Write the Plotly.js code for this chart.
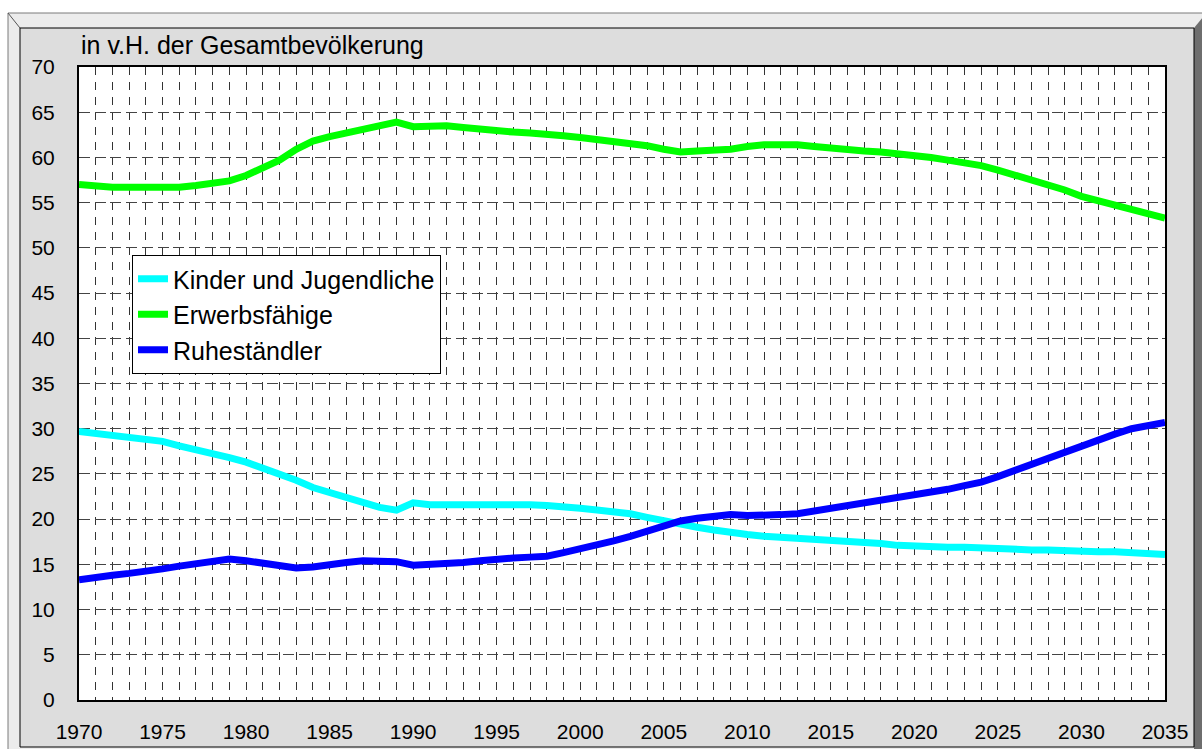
<!DOCTYPE html>
<html>
<head>
<meta charset="utf-8">
<script src="https://cdn.plot.ly/plotly-3.0.1.min.js"></script>
<style>
html,body{margin:0;padding:0;background:#fff;}
#chart{width:1202px;height:749px;}
</style>
</head>
<body>
<div id="chart"></div>
<script>
const years = [1970,1971,1972,1973,1974,1975,1976,1977,1978,1979,
  1980,1981,1982,1983,1984,1985,1986,1987,1988,1989,
  1990,1991,1992,1993,1994,1995,1996,1997,1998,1999,
  2000,2001,2002,2003,2004,2005,2006,2007,2008,2009,
  2010,2011,2012,2013,2014,2015,2016,2017,2018,2019,
  2020,2021,2022,2023,2024,2025,2026,2027,2028,2029,
  2030,2031,2032,2033,2034,2035];

const kinderJugendliche = [29.7,29.5,29.3,29.1,28.8,28.6,28.1,27.7,27.3,26.8,
  26.3,25.7,25.1,24.3,23.5,22.9,22.3,21.7,21.3,21.0,
  21.8,21.6,21.6,21.6,21.6,21.6,21.7,21.6,21.5,21.4,
  21.2,21.0,20.8,20.6,20.2,19.8,19.4,19.1,18.8,18.5,
  18.3,18.1,18.0,17.8,17.7,17.6,17.5,17.4,17.3,17.1,
  17.0,17.0,16.9,16.9,16.8,16.8,16.7,16.6,16.6,16.5,
  16.4,16.4,16.4,16.3,16.2,16.1];

const erwerbsfaehige = [57.0,56.8,56.7,56.7,56.7,56.6,56.7,56.9,57.1,57.4,
  58.0,58.9,59.7,60.9,61.8,62.3,62.7,63.2,63.6,63.9,
  63.4,63.5,63.5,63.3,63.1,62.9,62.8,62.7,62.6,62.4,
  62.2,62.0,61.8,61.6,61.3,60.9,60.6,60.7,60.8,60.9,
  61.2,61.4,61.4,61.4,61.2,61.0,60.9,60.7,60.6,60.4,
  60.3,60.0,59.7,59.4,59.1,58.6,58.1,57.6,57.0,56.4,
  55.7,55.2,54.6,54.1,53.7,53.3];

const ruhestaendler = [13.3,13.6,13.8,14.0,14.2,14.5,14.8,15.1,15.4,15.6,
  15.4,15.1,14.8,14.6,14.7,15.0,15.2,15.4,15.4,15.3,
  14.9,15.0,15.0,15.2,15.4,15.6,15.7,15.8,15.9,16.3,
  16.7,17.1,17.6,18.1,18.7,19.3,19.8,20.1,20.3,20.5,
  20.4,20.4,20.5,20.6,20.9,21.2,21.5,21.7,22.0,22.3,
  22.6,23.0,23.3,23.7,24.1,24.7,25.4,26.0,26.7,27.4,
  28.1,28.8,29.4,30.0,30.4,30.7];

const seriesNames = ['Kinder und Jugendliche','Erwerbsfähige','Ruheständler'];
const seriesColors = ['#00ffff','#00ff00','#0000ff'];
const seriesValues = [kinderJugendliche, erwerbsfaehige, ruhestaendler];
const yAxisNote = 'in v.H. der Gesamtbevölkerung';

const W = 1202, H = 749;
const L = 79, R = 1165, T = 67, B = 700;
const px = x => (x - L) / (R - L);
const py = y => (B - y) / (B - T);

const FONT = 'Liberation Sans, Arial, sans-serif';

const traces = seriesNames.map((n, i) => ({
  type: 'scatter', mode: 'lines', name: n,
  x: years, y: seriesValues[i],
  line: {color: seriesColors[i], width: 7},
  cliponaxis: false,
  legendgroup: 'g' + i,
  hoverinfo: 'skip'
}));

const shapes = [
  {type:'rect', xref:'paper', yref:'paper', layer:'below',
   x0:px(8), x1:px(1210), y0:py(13), y1:py(770),
   fillcolor:'#ececec', line:{color:'#7a7a7a', width:1}},
  {type:'path', xref:'paper', yref:'paper', layer:'below',
   path:`M${px(1194)},${py(28)} L${px(1203)},${py(17)} L${px(1203)},${py(770)} L${px(1194)},${py(770)} Z`,
   fillcolor:'#6e6e6e', line:{width:0}},
  {type:'line', xref:'paper', yref:'paper', layer:'below',
   x0:px(8), y0:py(13), x1:px(20), y1:py(28), line:{color:'#555', width:1}},
  {type:'rect', xref:'paper', yref:'paper', layer:'below',
   x0:px(20), x1:px(1194), y0:py(28), y1:py(747),
   fillcolor:'#dddddd', line:{color:'#000', width:1}},
  {type:'rect', xref:'paper', yref:'paper', layer:'below',
   x0:0, x1:1, y0:0, y1:1, fillcolor:'#ffffff', line:{width:0}}
];

const layout = {
  width: W, height: H,
  margin: {l: L, r: W - R, t: T, b: H - B, pad: 0},
  paper_bgcolor: '#ffffff',
  plot_bgcolor: '#ffffff',
  font: {family: FONT, size: 21, color: '#000'},
  showlegend: true,
  legend: {
    x: px(132), y: py(255), xanchor: 'left', yanchor: 'top',
    bgcolor: '#ffffff', bordercolor: '#000', borderwidth: 1,
    font: {family: FONT, size: 25, color: '#000'},
    tracegroupgap: 10, traceorder: 'normal',
    itemwidth: 30
  },
  xaxis: {
    range: [1970, 2035], tick0: 1970, dtick: 5,
    showgrid: true, gridcolor: '#333', gridwidth: 1, griddash: '8px,7px',
    minor: {dtick: 1, showgrid: true, gridcolor: '#333', gridwidth: 1, griddash: '8px,7px', ticks: ''},
    showline: true, mirror: true, linecolor: '#000', linewidth: 2,
    ticks: 'outside', ticklen: 12, tickcolor: 'rgba(0,0,0,0)',
    tickfont: {family: FONT, size: 21, color: '#000'},
    zeroline: false, fixedrange: true
  },
  yaxis: {
    range: [0, 70], tick0: 0, dtick: 5,
    showgrid: true, gridcolor: '#444', gridwidth: 1, griddash: '11px,4.7px',
    showline: true, mirror: true, linecolor: '#000', linewidth: 2,
    ticks: 'outside', ticklen: 18, tickcolor: 'rgba(0,0,0,0)',
    tickfont: {family: FONT, size: 21, color: '#000'},
    zeroline: false, fixedrange: true
  },
  shapes: shapes,
  annotations: [{
    xref: 'paper', yref: 'paper', x: 0, y: py(45),
    xanchor: 'left', yanchor: 'middle', showarrow: false,
    text: yAxisNote, font: {family: FONT, size: 25, color: '#000'}
  }]
};

Plotly.newPlot('chart', traces, layout, {displayModeBar: false, staticPlot: true});
</script>
</body>
</html>
